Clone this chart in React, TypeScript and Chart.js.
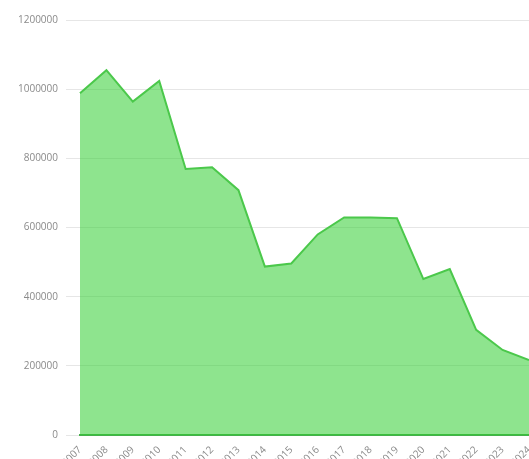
import React, { useEffect, useRef } from "react";
import { Chart, registerables } from "chart.js";

Chart.register(...registerables);

const years = ["2007","2008","2009","2010","2011","2012","2013","2014","2015","2016","2017","2018","2019","2020","2021","2022","2023","2024"];
const values = [988000, 1055000, 964000, 1024000, 769000, 774000, 708000, 487000, 496000, 580000, 629000, 629000, 627000, 451000, 480000, 304000, 246000, 217000];
const yMin = 0;
const yMax = 1200000;
const yStep = 200000;

export default function App() {
  const ref = useRef<HTMLCanvasElement>(null);
  useEffect(() => {
    const canvas = ref.current!;
    const chart = new Chart(canvas, {
      type: "line",
      data: {
        labels: years,
        datasets: [
          {
            data: values,
            fill: "origin",
            backgroundColor: "rgba(50,205,50,0.55)",
            borderColor: "rgb(75,200,75)",
            borderWidth: 2,
            pointRadius: 0,
            tension: 0,
          },
        ],
      },
      options: {
        responsive: false,
        animation: false,
        devicePixelRatio: 1,
        layout: { padding: { top: 20, left: 0, right: 0, bottom: 0 } },
        plugins: { legend: { display: false }, tooltip: { enabled: false } },
        scales: {
          x: {
            offset: false,
            grid: { display: false, drawTicks: false },
            border: { display: true, color: "rgb(70,175,75)", width: 2 },
            ticks: {
              autoSkip: false,
              minRotation: 45,
              maxRotation: 45,
              padding: 9,
              color: "#8a8a8a",
              font: { family: "'Open Sans'", size: 10 },
            },
            afterFit: (s: any) => {
              s.height = 24;
              s.paddingLeft = 0;
              s.paddingRight = 0;
            },
          },
          y: {
            min: yMin,
            max: yMax,
            grid: { color: "#e6e6e6", tickLength: 14 },
            border: { display: false },
            ticks: {
              stepSize: yStep,
              padding: 8,
              color: "#8a8a8a",
              font: { family: "'Open Sans'", size: 10 },
              callback: (v: any) => String(v),
            },
            afterFit: (s: any) => {
              s.width = 80;
              s.paddingTop = 0;
              s.paddingBottom = 0;
            },
          },
        },
      },
    });
    return () => chart.destroy();
  }, []);
  return (
    <div style={{ position: "fixed", left: 0, top: 0, width: 529, height: 459, overflow: "hidden", background: "#fff" }}>
      <canvas ref={ref} width={529} height={459} style={{ display: "block" }} />
    </div>
  );
}
